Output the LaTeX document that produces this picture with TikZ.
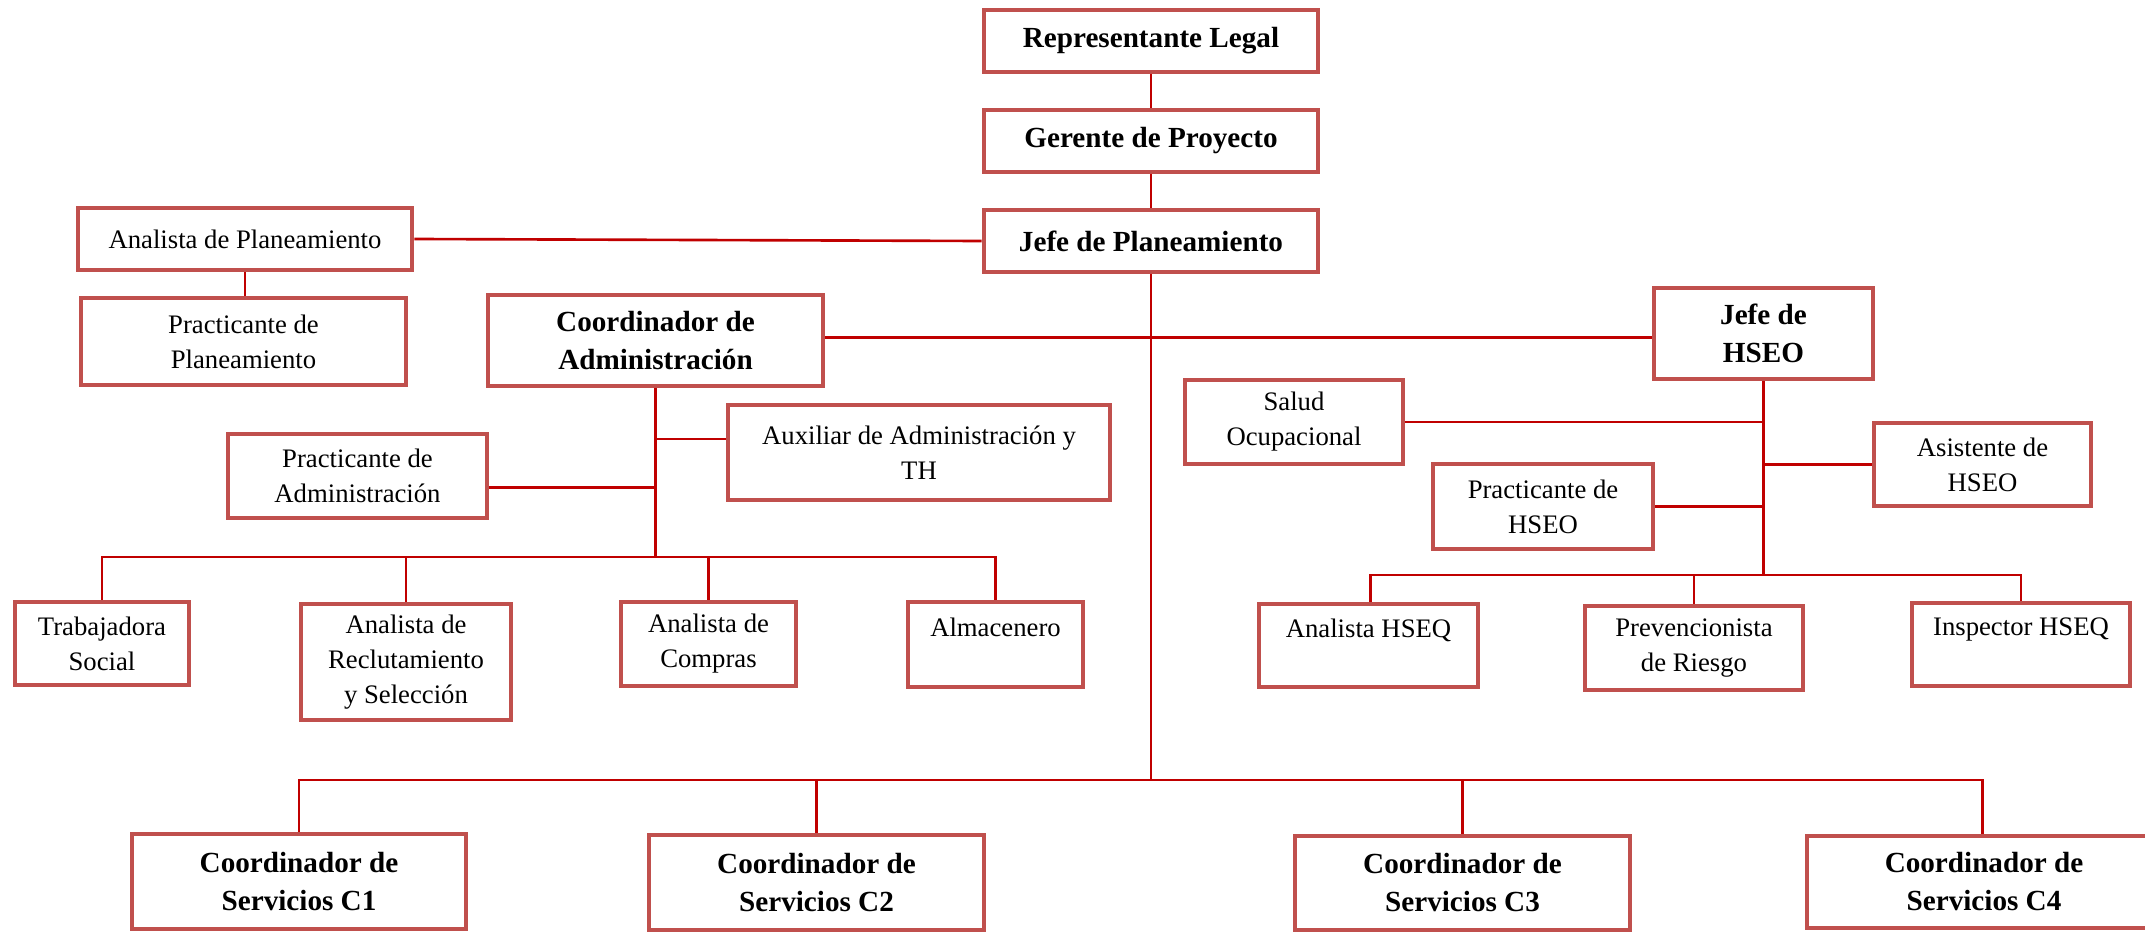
\documentclass[tikz,border=0pt]{standalone}
\usepackage{fontspec}
\setmainfont{Liberation Serif}
\usepackage{xcolor}
\definecolor{boxred}{RGB}{192,80,77}
\definecolor{linkred}{RGB}{192,0,0}

\tikzset{
  box/.style={draw=boxred, line width=1.35pt, fill=white, inner sep=0pt, align=center,
    font=\fontsize{7.6}{10}\selectfont},
  boldbox/.style={box, font=\fontsize{8.3}{10.8}\selectfont\bfseries},
  size/.style 2 args={minimum width=#1mm, minimum height=#2mm},
  link/.style={draw=linkred, line width=0.75pt},
}

\begin{document}
\begin{tikzpicture}[scale=0.1]
        \useasboundingbox (0,0) rectangle (214.5,-93.2);
        % top of the chart
        \node [boldbox, size={33.4}{6.2}] (rep) at (115.1,-4.1) {Representante Legal};
        \node [boldbox, size={33.4}{6.2}] (ger) at (115.1,-14.1) {Gerente de Proyecto};
        \node [boldbox, size={33.4}{6.2}] (jefe) at (115.1,-24.1) {Jefe de Planeamiento};
        \node [box, size={33.4}{6.2}] (anpl) at (24.5,-23.9) {Analista de Planeamiento};
        \node [box, size={32.5}{8.7}] (prpl) at (24.35,-34.15) {Practicante de\\Planeamiento};
        \node [boldbox, size={33.5}{9.1}] (coad) at (65.55,-34.05) {Coordinador de\\Administración};
        \node [boldbox, size={21.9}{9.1}] (jhseo) at (176.35,-33.35) {Jefe de\\HSEO};
        % administracion
        \node [box, size={38.2}{9.5}] (auxad) at (91.9,-45.25) {Auxiliar de Administración y\\TH};
        \node [box, size={25.9}{8.4}] (prad) at (35.75,-47.6) {Practicante de\\Administración};
        \node [box, size={17.4}{8.3}] (trab) at (10.2,-64.35) {Trabajadora\\Social};
        \node [box, size={21.0}{11.6}] (anrec) at (40.6,-66.2) {Analista de\\Reclutamiento\\y Selección};
        \node [box, size={17.5}{8.4}] (ancom) at (70.85,-64.4) {Analista de\\Compras};
        \node [box, size={17.5}{8.5}] (alm) at (99.55,-64.45) {Almacenero\\~};
        % hseo
        \node [box, size={21.8}{8.4}] (salud) at (129.4,-42.2) {Salud\\Ocupacional};
        \node [box, size={21.7}{8.3}] (asist) at (198.25,-46.45) {Asistente de\\HSEO};
        \node [box, size={22.0}{8.5}] (prhseo) at (154.3,-50.65) {Practicante de\\HSEO};
        \node [box, size={21.9}{8.3}] (anhseq) at (136.85,-64.55) {Analista HSEQ\\~};
        \node [box, size={21.8}{8.4}] (prev) at (169.4,-64.8) {Prevencionista\\de Riesgo};
        \node [box, size={21.8}{8.3}] (insp) at (202.1,-64.45) {Inspector HSEQ\\~};
        % servicios
        \node [boldbox, size={33.4}{9.5}] (c1) at (29.9,-88.15) {Coordinador de\\Servicios C1};
        \node [boldbox, size={33.5}{9.5}] (c2) at (81.65,-88.25) {Coordinador de\\Servicios C2};
        \node [boldbox, size={33.5}{9.4}] (c3) at (146.25,-88.3) {Coordinador de\\Servicios C3};
        \node [boldbox, size={35.4}{9.2}] (c4) at (198.4,-88.2) {Coordinador de\\Servicios C4};

        \coordinate (svbus) at (115.1,-78.0);
        \coordinate (adbus) at (65.55,-55.7);
        \coordinate (hsbus) at (176.35,-57.5);

        \draw [link] (rep.south) -- (ger.north);
        \draw [link] (ger.south) -- (jefe.north);
        \draw [link] (jefe.south) -- (svbus);
        \draw [link] (anpl.east) -- (jefe.west);
        \draw [link] (anpl.south) -- (anpl.south |- prpl.north);
        \draw [link] (coad.1) -- (coad.1 -| jhseo.west);
        % administracion
        \draw [link] (coad.south) -- (adbus);
        \draw [link] (auxad.176) -- (auxad.176 -| coad.south);
        \draw [link] (prad.355) -- (prad.355 -| coad.south);
        \draw [link] (trab.north) |- (alm.north |- adbus) -- (alm.north);
        \foreach \n in {anrec,ancom}
          \draw [link] (\n.north) -- (\n.north |- adbus);
        % hseo
        \draw [link] (jhseo.south) -- (hsbus);
        \foreach \n in {salud,prhseo}
          \draw [link] (\n.east) -- (\n.east -| jhseo.south);
        \draw [link] (asist.west) -- (asist.west -| jhseo.south);
        \draw [link] ([xshift=1.85mm]anhseq.north) |- (insp.north |- hsbus) -- (insp.north);
        \draw [link] (prev.north) -- (prev.north |- hsbus);
        % servicios
        \draw [link] (c1.north) |- ([xshift=-1.8mm]c4.north |- svbus) -- ([xshift=-1.8mm]c4.north);
        \foreach \n in {c2,c3}
          \draw [link] (\n.north) -- (\n.north |- svbus);
\end{tikzpicture}
\end{document}
